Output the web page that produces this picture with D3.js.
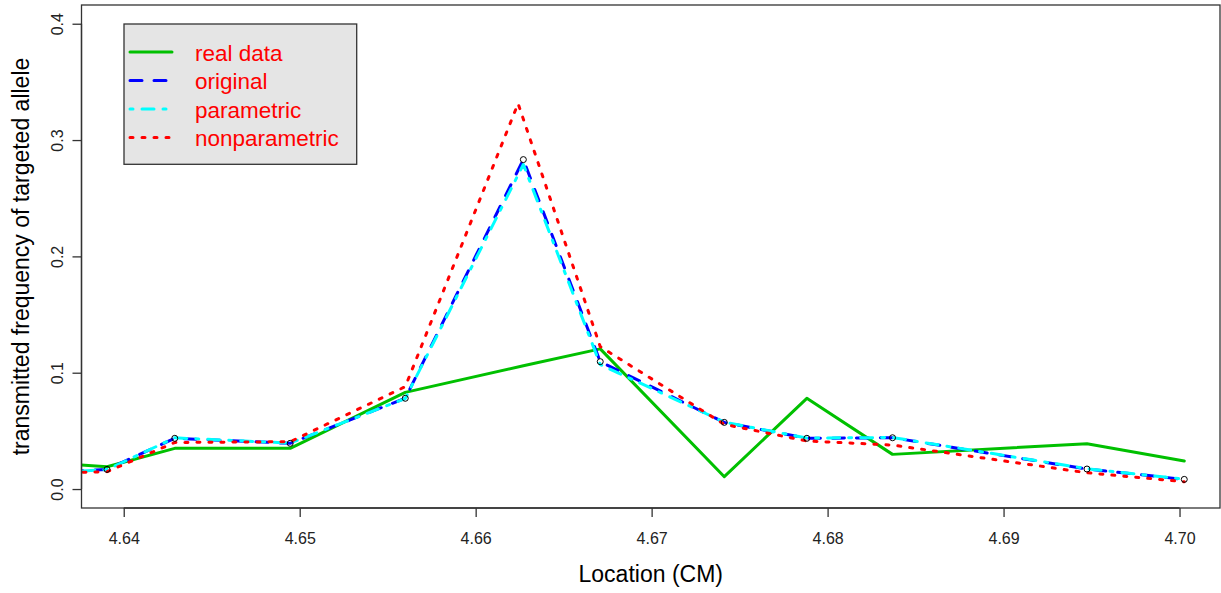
<!DOCTYPE html>
<html>
<head>
<meta charset="utf-8">
<script src="https://cdn.jsdelivr.net/npm/d3@7"></script>
<style>
  html, body { margin: 0; padding: 0; background: #fff; }
  svg { display: block; font-family: "Liberation Sans", Arial, Helvetica, sans-serif; }
</style>
</head>
<body>
<svg id="chart" width="1221" height="593"></svg>
<script>
// Marker locations (cM) along the chromosome segment
const locations = [4.6370, 4.63905, 4.6429, 4.64946, 4.6560, 4.66271, 4.66708, 4.67413, 4.67882, 4.68369, 4.69474, 4.70027];
// Nonparametric estimate is evaluated on a slightly shifted grid near the peak
const locationsNonpar = [4.6370, 4.63905, 4.6429, 4.64946, 4.6560, 4.66241, 4.66708, 4.67413, 4.67882, 4.68369, 4.69474, 4.70027];

// Transmitted frequency of the targeted allele
const realData      = [0.0212, 0.0192, 0.0350, 0.0350, 0.0831, 0.1060, 0.1205, 0.0106, 0.0780, 0.0298, 0.0390, 0.0241];
const original      = [0.0152, 0.0169, 0.0436, 0.0393, 0.0780, 0.2832, 0.1095, 0.0573, 0.0436, 0.0441, 0.0172, 0.0083];
const parametric    = [0.0150, 0.0167, 0.0440, 0.0395, 0.0778, 0.2790, 0.1070, 0.0575, 0.0438, 0.0443, 0.0175, 0.0085];
const nonparametric = [0.0142, 0.0149, 0.0400, 0.0407, 0.0880, 0.3314, 0.1224, 0.0556, 0.0413, 0.0378, 0.0140, 0.0063];

const xTicks = [4.64, 4.65, 4.66, 4.67, 4.68, 4.69, 4.70];
const yTicks = [0.0, 0.1, 0.2, 0.3, 0.4];

const legendLabels = ["real data", "original", "parametric", "nonparametric"];
const seriesColors = ["#00c000", "#0000ff", "#00ffff", "#ff0000"];

const W = 1221, H = 593;
const plot = { left: 81.5, right: 1220, top: 5, bottom: 508 };
const LW = 3;
const FONT = "'Liberation Sans', Arial, Helvetica, sans-serif";

const svg = d3.select("#chart");

const x = d3.scaleLinear().domain([4.6376, 4.7023]).range([plot.left, plot.right]);
const y = d3.scaleLinear().domain([-0.0163, 0.4161]).range([plot.bottom, plot.top]);

svg.append("defs").append("clipPath").attr("id", "plotClip")
  .append("rect")
  .attr("x", plot.left).attr("y", plot.top)
  .attr("width", plot.right - plot.left).attr("height", plot.bottom - plot.top);

// Line types: solid, dashed, dot-dash, dotted (round caps)
const dashes = [null, "12 12", "3 9 12 9", "3 9"];

const series = [
  { xs: locations, ys: realData },
  { xs: locations, ys: original },
  { xs: locations, ys: parametric },
  { xs: locationsNonpar, ys: nonparametric }
];

const line = d3.line().x(d => x(d[0])).y(d => y(d[1]));

const g = svg.append("g").attr("clip-path", "url(#plotClip)");

series.forEach((s, i) => {
  const pts = s.xs.map((v, k) => [v, s.ys[k]]);
  g.append("path")
    .attr("d", line(pts))
    .attr("fill", "none")
    .attr("stroke", seriesColors[i])
    .attr("stroke-width", LW)
    .attr("stroke-linecap", "round")
    .attr("stroke-linejoin", "round")
    .attr("stroke-dasharray", dashes[i]);
});

// Open circles at the original estimates
g.selectAll("circle.pt")
  .data(locations.map((v, k) => [v, original[k]]))
  .join("circle")
  .attr("class", "pt")
  .attr("cx", d => x(d[0]))
  .attr("cy", d => y(d[1]))
  .attr("r", 3)
  .attr("fill", "none")
  .attr("stroke", "#000")
  .attr("stroke-width", 1);

// Plot frame
svg.append("rect")
  .attr("x", plot.left).attr("y", plot.top)
  .attr("width", plot.right - plot.left).attr("height", plot.bottom - plot.top)
  .attr("fill", "none").attr("stroke", "#333").attr("stroke-width", 1.3);

// X axis
const xAxis = d3.axisBottom(x).tickValues(xTicks).tickSize(9)
  .tickFormat(d3.format(".2f"));
const gx = svg.append("g").attr("transform", `translate(0,${plot.bottom})`).call(xAxis);
gx.select(".domain").attr("stroke", "#333").attr("stroke-width", 1.3)
  .attr("d", `M${x(xTicks[0])},0H${x(xTicks[xTicks.length - 1])}`);
gx.selectAll(".tick line").attr("stroke", "#333").attr("stroke-width", 1.3);
gx.selectAll(".tick text")
  .style("font-size", "16px").style("font-family", FONT)
  .attr("fill", "#222")
  .attr("y", 36.3).attr("dy", null);

// Y axis with labels turned parallel to the axis
const yAxis = d3.axisLeft(y).tickValues(yTicks).tickSize(9).tickFormat(d3.format(".1f"));
const gy = svg.append("g").attr("transform", `translate(${plot.left},0)`).call(yAxis);
gy.select(".domain").attr("stroke", "#333").attr("stroke-width", 1.3)
  .attr("d", `M0,${y(yTicks[0])}V${y(yTicks[yTicks.length - 1])}`);
gy.selectAll(".tick line").attr("stroke", "#333").attr("stroke-width", 1.3);
gy.selectAll(".tick text")
  .style("font-size", "16px").style("font-family", FONT)
  .attr("fill", "#222")
  .attr("x", null).attr("dy", null)
  .attr("text-anchor", "middle")
  .attr("transform", "translate(-19,0) rotate(-90)");

// Axis titles
svg.append("text")
  .attr("x", (plot.left + plot.right) / 2).attr("y", 582)
  .attr("text-anchor", "middle").style("font-size", "23px").attr("fill", "#000")
  .text("Location (CM)");

svg.append("text")
  .attr("transform", `translate(29,${(plot.top + plot.bottom) / 2}) rotate(-90)`)
  .attr("text-anchor", "middle").style("font-size", "23px").attr("fill", "#000")
  .text("transmitted frequency of targeted allele");

// Legend
const leg = svg.append("g");
leg.append("rect")
  .attr("x", 124).attr("y", 24).attr("width", 232.7).attr("height", 140.3)
  .attr("fill", "#e5e5e5").attr("stroke", "#333").attr("stroke-width", 1.3);

legendLabels.forEach((lab, i) => {
  const ly = 52 + i * 28.5;
  leg.append("line")
    .attr("x1", 130).attr("x2", 172).attr("y1", ly).attr("y2", ly)
    .attr("stroke", seriesColors[i]).attr("stroke-width", LW)
    .attr("stroke-linecap", "round")
    .attr("stroke-dasharray", dashes[i]);
  leg.append("text")
    .attr("x", 195).attr("y", ly + 8.5)
    .style("font-size", "22.5px").attr("fill", "#ff0000")
    .text(lab);
});
</script>
</body>
</html>
